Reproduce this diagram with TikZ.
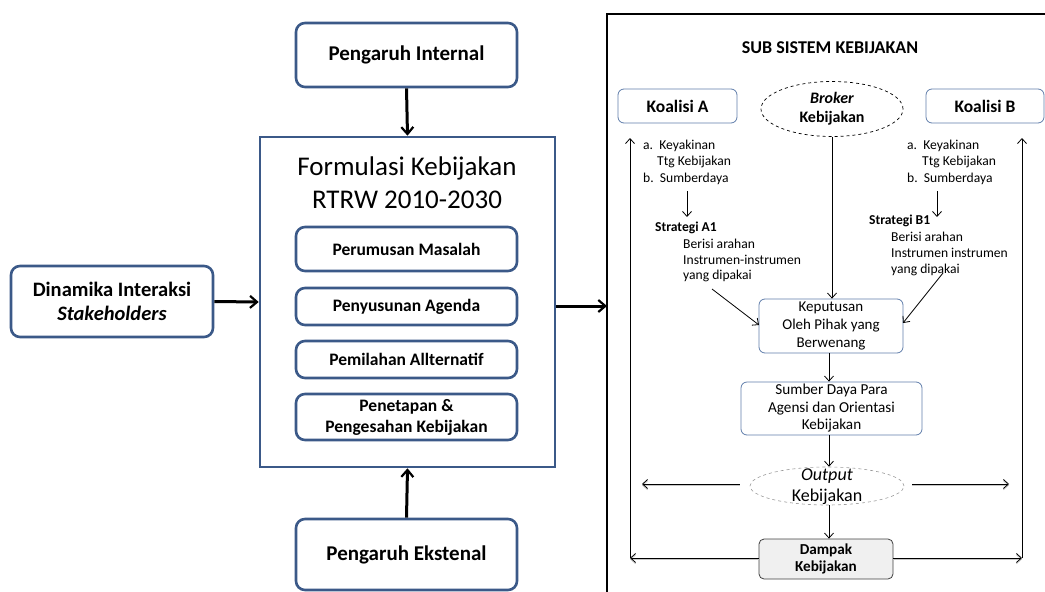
\documentclass[tikz,border=0pt]{standalone}
\usepackage{fontspec}
\setmainfont{Carlito}
\usetikzlibrary{arrows.meta,shapes.geometric}
\definecolor{boxblue}{RGB}{59,89,136}
\definecolor{thinblue}{RGB}{95,125,170}
\begin{document}
\begin{tikzpicture}[x=1pt,y=-1pt,
  bigbox/.style={draw=boxblue, line width=2.6pt, rounded corners=9pt, align=center, inner sep=0pt, minimum width=221pt},
  framebox/.style={draw=boxblue, line width=2.6pt, inner sep=0pt},
  smallbox/.style={draw=thinblue, line width=0.8pt, rounded corners=6pt, align=center, inner sep=0pt},
  thick arrow/.style={line width=3pt, -{Straight Barb[length=7pt,width=12pt,line width=2.2pt]}},
  thin arrow/.style={line width=0.8pt, -{Straight Barb[length=5pt,width=9pt,line width=0.8pt]}},
  shadowed/.style={preaction={draw=gray!45, line width=1.4pt, transform canvas={yshift=-1.3pt}}},
  small text/.style={anchor=west, inner sep=0pt, font=\fontsize{13.6}{15}\selectfont},
  small bold/.style={anchor=west, inner sep=0pt, font=\fontsize{13.6}{15}\selectfont\bfseries}
]
\useasboundingbox (0,0) rectangle (1045,592);

% ---------- left part ----------
\node[bigbox, minimum height=64pt, font=\fontsize{21}{24}\selectfont\bfseries] (pi) at (406.5,55) {Pengaruh Internal};
\node[framebox, minimum width=295pt, minimum height=330pt] (form) at (407.5,302) {};
\node[align=center, inner sep=0pt, font=\fontsize{27}{33}\selectfont] (ftitle) at (407,183) {Formulasi Kebijakan\\RTRW 2010-2030};
\node[bigbox, minimum height=44pt, font=\fontsize{17.5}{20}\selectfont\bfseries] (b1) at (406.5,249) {Perumusan Masalah};
\node[bigbox, minimum height=37pt, font=\fontsize{17.5}{20}\selectfont\bfseries] (b2) at (406.5,306.5) {Penyusunan Agenda};
\node[bigbox, minimum height=37pt, font=\fontsize{17.5}{20}\selectfont\bfseries] (b3) at (406.5,359.5) {Pemilahan Allternatif};
\node[bigbox, minimum height=46pt, font=\fontsize{17.5}{21}\selectfont\bfseries] (b4) at (406.5,417) {Penetapan \&\\Pengesahan Kebijakan};
\node[bigbox, minimum height=71pt, font=\fontsize{21}{24}\selectfont\bfseries] (pe) at (406.5,554.5) {Pengaruh Ekstenal};
\node[bigbox, minimum width=202pt, minimum height=71pt, font=\fontsize{20.5}{24}\selectfont\bfseries] (din) at (112,301.5) {Dinamika Interaksi\\\textit{Stakeholders}};

\draw[thick arrow] (pi.south) -- (form.north);
\draw[thick arrow] (pe.north) -- (form.south);
\draw[thick arrow] (din.east) -- (form.west);
\coordinate (frameL) at (607,306);
\draw[thick arrow] (form.east |- frameL) -- (frameL);

% ---------- right panel ----------
\coordinate (fbl) at (607,592);
\coordinate (ftl) at (607,14);
\coordinate (ftr) at (1045,14);
\draw[line width=1.2pt] (fbl) -- (ftl) -- (ftr);

\node[font=\fontsize{18}{20}\selectfont\bfseries] (sub) at (830,48) {SUB SISTEM KEBIJAKAN};

\node[smallbox, minimum width=119pt, minimum height=34pt, font=\fontsize{17.5}{20}\selectfont\bfseries] (ka) at (677.5,106) {Koalisi A};
\node[smallbox, minimum width=118pt, minimum height=34pt, font=\fontsize{17.5}{20}\selectfont\bfseries] (kb) at (985,106) {Koalisi B};
\node[ellipse, draw, dashed, line width=0.7pt, minimum width=142pt, minimum height=55pt, inner sep=0pt] (broker) at (832,109) {};
\node[align=center, inner sep=0pt, font=\fontsize{16}{19}\selectfont\bfseries] (brokert) at (832,109) {\textit{Broker}\\Kebijakan};

% left list
\node[small text] (la) at (643,146) {a.\ \ Keyakinan};
\node[small text] (lt) at (657,162) {Ttg Kebijakan};
\node[small text] (lb) at (643,179) {b.\ \ Sumberdaya};
\coordinate (la1) at (687,191);
\coordinate (la2) at (687,217);
\draw[thin arrow] (la1) -- (la2);
\node[small bold] (sa) at (655,228) {Strategi A1};
\node[small text] (sa1) at (683,244) {Berisi arahan};
\node[small text] (sa2) at (683,260) {Instrumen-instrumen};
\node[small text] (sa3) at (683,276) {yang dipakai};

% right list
\node[small text] (ra) at (907,146) {a.\ \ Keyakinan};
\node[small text] (rt) at (922,162) {Ttg Kebijakan};
\node[small text] (rb) at (907,179) {b.\ \ Sumberdaya};
\coordinate (ra1) at (937,191);
\coordinate (ra2) at (937,217);
\draw[thin arrow] (ra1) -- (ra2);
\node[small bold] (sb) at (869,221) {Strategi B1};
\node[small text] (sb1) at (891,237) {Berisi arahan};
\node[small text] (sb2) at (891,253) {Instrumen instrumen};
\node[small text] (sb3) at (891,270) {yang dipakai};

% centre chain
\node[smallbox, minimum width=144pt, minimum height=54pt, font=\fontsize{15}{18}\selectfont] (kep) at (831,326) {Keputusan\\Oleh Pihak yang\\Berwenang};
\node[smallbox, minimum width=181pt, minimum height=53pt, font=\fontsize{15.2}{17.5}\selectfont] (sum) at (831.5,408.5) {Sumber Daya Para\\Agensi dan Orientasi\\Kebijakan};
\node[ellipse, draw=gray!80, dashed, line width=0.6pt, minimum width=154pt, minimum height=38pt, inner sep=0pt] (out) at (827,486) {};
\node[align=center, inner sep=0pt, font=\fontsize{18}{21}\selectfont] (outt) at (827,487) {\textit{Output}\\Kebijakan};
\node[draw=black!75, fill=gray!12, line width=0.8pt, rounded corners=5pt, minimum width=134pt, minimum height=40pt, align=center, inner sep=0pt, font=\fontsize{15.2}{17}\selectfont\bfseries] (dam) at (826,559) {Dampak\\Kebijakan};

\draw[thin arrow] (broker.south) -- (kep.north -| broker.south);
\coordinate (da1) at (712,289);
\coordinate (da2) at (759,325);
\draw[thin arrow] (da1) -- (da2);
\coordinate (db1) at (943,273);
\coordinate (db2) at (903,323);
\draw[thin arrow] (db1) -- (db2);
\draw[thin arrow] (kep.south -| 829,0) -- (sum.north -| 829,0);
\draw[thin arrow] (sum.south -| 829,0) -- (out.north -| 829,0);
\draw[thin arrow] (out.south -| 829,0) -- (dam.north -| 829,0);

% horizontal shadowed arrows
\coordinate (ol) at (642,484);
\coordinate (or) at (1009,484);
\draw[thin arrow, shadowed] (out.west |- ol) ++(-10,0) coordinate (olstart) -- (ol);
\draw[thin arrow, shadowed] (out.east |- or) ++(8,0) coordinate (orstart) -- (or);

% feedback loops
\coordinate (lbot) at (630,558);
\coordinate (ltop) at (630,138);
\coordinate (rbot) at (1022,558);
\coordinate (rtop) at (1022,138);
\draw[thin arrow, shadowed] (dam.west |- lbot) -- (lbot);
\draw[thin arrow, shadowed] (dam.east |- rbot) -- (rbot);
\draw[thin arrow] (lbot) -- (ltop);
\draw[thin arrow] (rbot) -- (rtop);
\end{tikzpicture}
\end{document}
